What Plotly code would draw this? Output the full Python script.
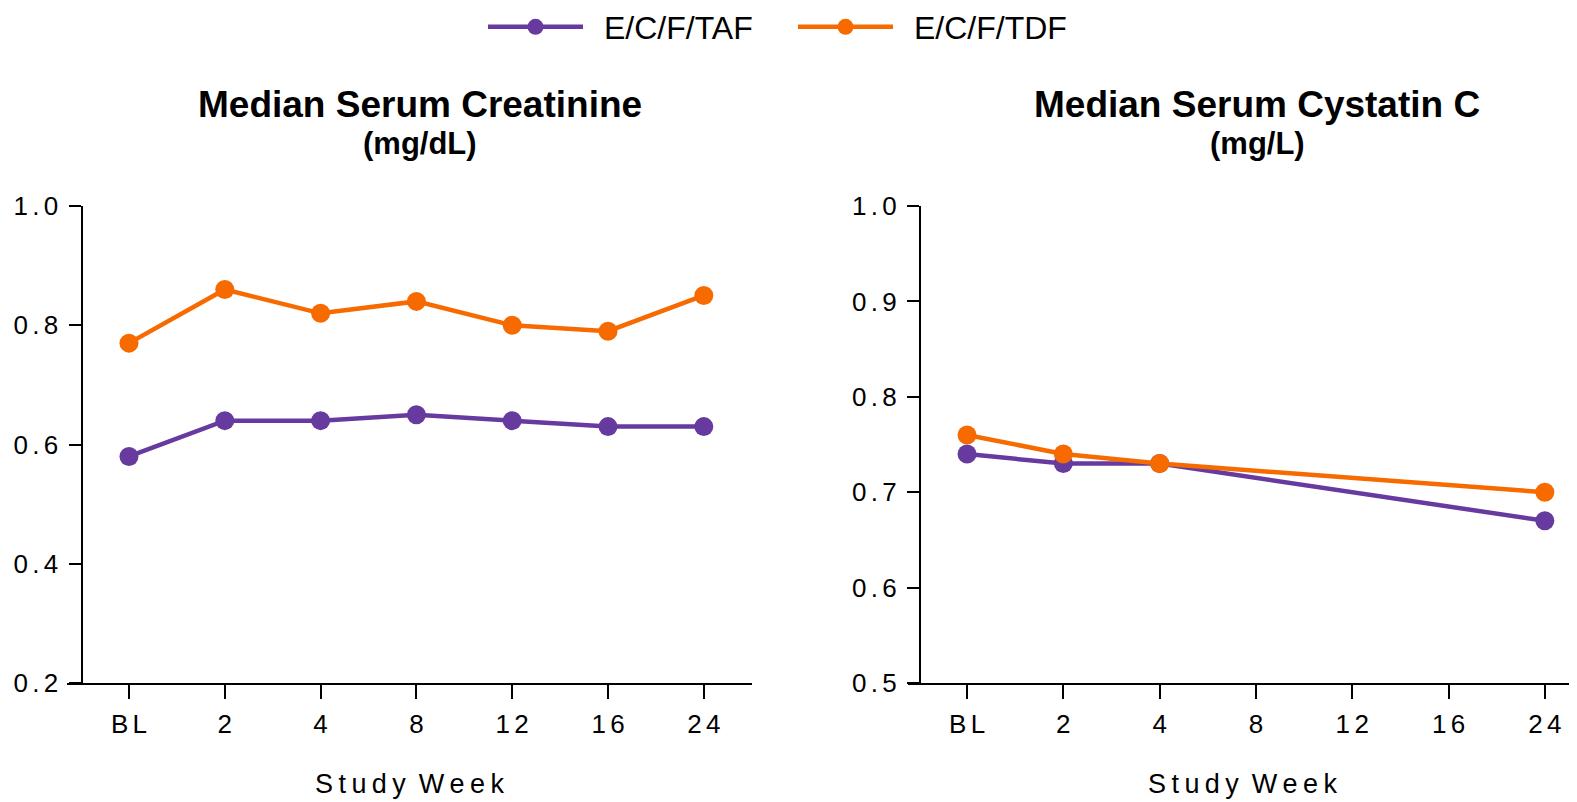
import plotly.graph_objects as go

# page body has an 8px margin, so the figure is sized to fit the window
W, H = 1569, 794
OFF = 8

weeks_all = ["BL", "2", "4", "8", "12", "16", "24"]
creat_taf = [0.58, 0.64, 0.64, 0.65, 0.64, 0.63, 0.63]
creat_tdf = [0.77, 0.86, 0.82, 0.84, 0.80, 0.79, 0.85]

weeks_cys = ["BL", "2", "4", "24"]
cys_taf = [0.74, 0.73, 0.73, 0.67]
cys_tdf = [0.76, 0.74, 0.73, 0.70]

creat_ticks = [0.2, 0.4, 0.6, 0.8, 1.0]
cys_ticks = [0.5, 0.6, 0.7, 0.8, 0.9, 1.0]

series_names = ["E/C/F/TAF", "E/C/F/TDF"]
colors = ["#663A9E", "#F66A00"]

SP = "\u2006"  # small space to mimic letter-spaced tick text
TS = "\u2009"


def fx(px):
    return (px - OFF) / W


def fy(py):
    return 1 - (py - OFF) / H


def spaced(s, sep=SP):
    return sep.join(list(s))


FONT = "Liberation Sans, Arial, sans-serif"

fig = go.Figure()

for name, col, vals in zip(series_names, colors, [creat_taf, creat_tdf]):
    fig.add_trace(go.Scatter(x=weeks_all, y=vals, name="\u2002" + name, mode="lines+markers",
                             line=dict(color=col, width=4.5), marker=dict(color=col, size=19),
                             xaxis="x", yaxis="y", legendgroup=name))
for name, col, vals in zip(series_names, colors, [cys_taf, cys_tdf]):
    fig.add_trace(go.Scatter(x=weeks_cys, y=vals, name=name, mode="lines+markers",
                             line=dict(color=col, width=4.5), marker=dict(color=col, size=19),
                             xaxis="x2", yaxis="y2", legendgroup=name, showlegend=False))

ydom = [fy(683), fy(206)]
tickfont = dict(family=FONT, size=26, color="black")
study_week = spaced("Study", TS) + " " + TS + spaced("Week", TS)

common_x = dict(type="category", categoryorder="array", categoryarray=weeks_all,
                tickmode="array", tickvals=weeks_all, ticktext=[spaced(w) for w in weeks_all],
                showline=True, linecolor="black", linewidth=2, ticks="outside", ticklen=14,
                tickwidth=2, tickcolor="black", tickfont=tickfont, showgrid=False, zeroline=False,
                automargin=False, ticklabelstandoff=3,
                title=dict(text=study_week,
                           font=dict(family=FONT, size=27, color="black"), standoff=36))
common_y = dict(showline=True, linecolor="black", linewidth=2, ticks="outside", ticklen=12,
                tickwidth=2, tickcolor="black", tickfont=tickfont, showgrid=False, zeroline=False,
                automargin=False, anchor="free", ticklabelstandoff=5)

fig.update_layout(
    width=W, height=H, margin=dict(l=0, r=0, t=0, b=0, autoexpand=False),
    paper_bgcolor="white", plot_bgcolor="white",
    font=dict(family=FONT, color="black"),
    xaxis=dict(domain=[fx(67), fx(752)], range=[-0.647, 6.503], anchor="y", **common_x),
    yaxis=dict(domain=ydom, range=[0.2, 1.0], position=fx(81.5),
               tickvals=creat_ticks, ticktext=[spaced(f"{v:.1f}") for v in creat_ticks], **common_y),
    xaxis2=dict(domain=[fx(908), 1.0], range=[-0.613, 6.334], anchor="y2", **common_x),
    yaxis2=dict(domain=ydom, range=[0.5, 1.0], position=fx(920),
                tickvals=cys_ticks, ticktext=[spaced(f"{v:.1f}") for v in cys_ticks], **common_y),
    legend=dict(orientation="h", x=fx(483), xanchor="left", y=fy(27), yanchor="middle",
                font=dict(family=FONT, size=32, color="black"), itemwidth=95,
                entrywidth=200, entrywidthmode="pixels",
                bgcolor="rgba(0,0,0,0)"),
    showlegend=True,
)

titles = [("Median Serum Creatinine", "(mg/dL)", 420), ("Median Serum Cystatin C", "(mg/L)", 1257)]
for t, sub, xc in titles:
    fig.add_annotation(text=f"<b>{t}</b>", x=fx(xc), y=fy(105), xref="paper", yref="paper",
                       showarrow=False, font=dict(family=FONT, size=37, color="black"),
                       xanchor="center", yanchor="middle")
    fig.add_annotation(text=f"<b>{sub}</b>", x=fx(xc), y=fy(143), xref="paper", yref="paper",
                       showarrow=False, font=dict(family=FONT, size=31, color="black"),
                       xanchor="center", yanchor="middle")

fig.write_html("out.html")
